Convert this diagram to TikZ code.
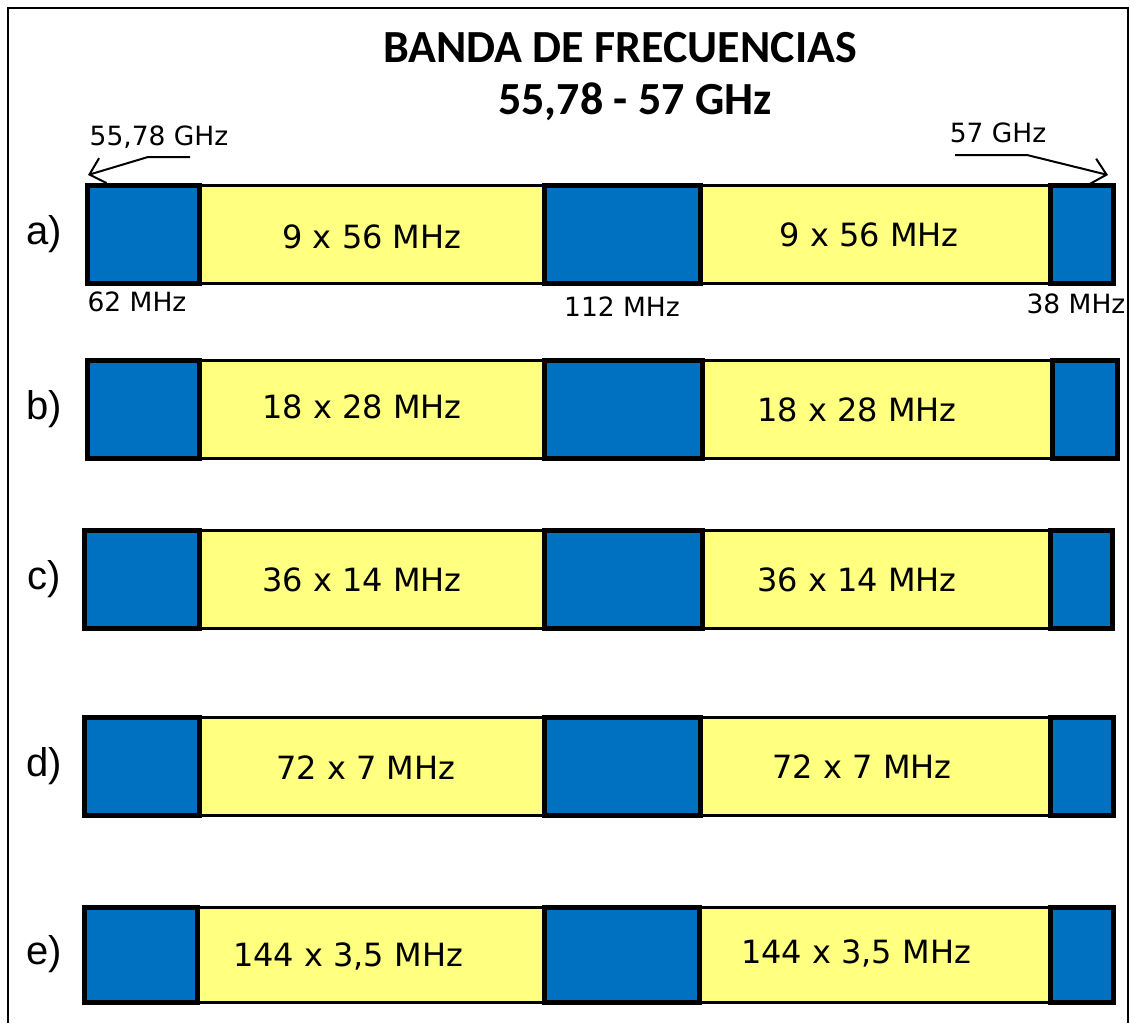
\documentclass[tikz,border=0pt]{standalone}
\usepackage{fontspec}
\setmainfont{DejaVu Sans}
\newfontfamily\titlefont{Carlito}
\newfontfamily\rowfont{Liberation Sans}
\usetikzlibrary{arrows.meta}
\definecolor{bandblue}{HTML}{0070C0}
\definecolor{bandyellow}{HTML}{FFFF80}
\tikzset{
	chan/.style = {draw=black, line width=3pt, fill=bandyellow},
	guard/.style = {draw=black, line width=5pt, fill=bandblue},
	chanlabel/.style = {font=\fontsize{32}{32}\selectfont},
	freqlabel/.style = {font=\fontsize{26.5}{26.5}\selectfont},
	rowlabel/.style = {font=\rowfont\fontsize{40}{40}\selectfont},
	titlelabel/.style = {font=\titlefont\bfseries\fontsize{46}{46}\selectfont},
	pointer/.style = {line width=2pt, -{Straight Barb[length=14pt,width=26pt,line width=2pt]}},
}
\begin{document}
\begin{tikzpicture}[x=1pt, y=-1pt]
		\useasboundingbox (0,0) rectangle (1130,1023);
		\draw[line width=2pt] (8,1023) -- (8,8) -- (1128,8) -- (1128,1023);
		\node[titlelabel] (title) at (620,48) {BANDA DE FRECUENCIAS};
		\node[titlelabel] (range) at (635,102) {55,78 - 57 GHz};
		% rows: name / top / bottom / x of the borders / label centres
		\foreach \r/\yt/\yb/\xa/\xb/\xc/\xd/\xe/\xf/\pa/\qa/\pb/\qb/\lab in {
				a/185/283/87/199/544/700/1050/1113/372/237/869/235/{9 x 56 MHz},
				b/360/458/87/199/544/702/1052/1117/362/407/857/410/{18 x 28 MHz},
				c/530/628/84/199/544/702/1050/1112/362/580/857/580/{36 x 14 MHz},
				d/717/815/84/199/544/700/1050/1113/366/768/862/767/{72 x 7 MHz},
				e/907/1002/84/197/544/699/1050/1113/348/956/856/953/{144 x 3,5 MHz}} {
			\draw[chan] (\xb,\yt) rectangle (\xc,\yb);
			\draw[chan] (\xd,\yt) rectangle (\xe,\yb);
			\draw[guard] (\xa,\yt) rectangle (\xb,\yb);
			\draw[guard] (\xc,\yt) rectangle (\xd,\yb);
			\draw[guard] (\xe,\yt) rectangle (\xf,\yb);
			\coordinate (\r-nw) at (\xa,\yt);
			\coordinate (\r-ne) at (\xf,\yt);
			\node[chanlabel] (\r-left) at (\pa,\qa) {\lab};
			\node[chanlabel] (\r-right) at (\pb,\qb) {\lab};
			\node[rowlabel] (\r-name) at (44,{(\yt+\yb)/2}) {\r)};
		}
		\node[freqlabel] (lowfreq) at (159,137) {55,78 GHz};
		\node[freqlabel] (highfreq) at (998,133) {57 GHz};
		\node[freqlabel] (guardlow) at (137,302) {62 MHz};
		\node[freqlabel] (guardmid) at (622,307) {112 MHz};
		\node[freqlabel] (guardhigh) at (1076,304) {38 MHz};
		\coordinate (lowstart) at (190,157);
		\coordinate (lowbend) at (148,157);
		\coordinate (highstart) at (955,155);
		\coordinate (highbend) at (1027,155);
		\draw[pointer] (lowstart) -- (lowbend) -- ([xshift=1pt,yshift=10pt]a-nw);
		\draw[pointer] (highstart) -- (highbend) -- ([xshift=-5pt,yshift=10pt]a-ne);
	\end{tikzpicture}
\end{document}
